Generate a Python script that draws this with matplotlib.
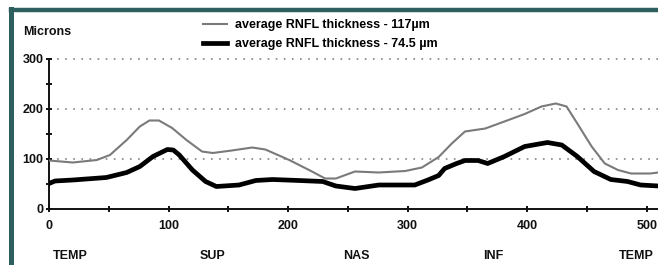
import matplotlib
matplotlib.use('Agg')
import matplotlib.pyplot as plt
from matplotlib.lines import Line2D

# RNFL thickness profile
pos_a = [0, 10, 20, 40, 51, 65, 76, 84, 92, 103, 115, 128, 137, 153, 170, 181,
         201, 220, 231, 240, 256, 276, 298, 312, 326, 337, 348, 365, 381, 398,
         412, 424, 433, 442, 454, 465, 476, 487, 503, 510]
thick_a = [96, 94, 92, 97, 107, 137, 164, 176, 176, 161, 137, 114, 111, 116, 122, 118,
           97, 74, 60, 60, 74, 72, 75, 82, 103, 130, 154, 160, 174, 189,
           204, 210, 204, 170, 124, 90, 77, 70, 70, 72]

pos_b = [0, 5, 20, 48, 65, 76, 87, 99, 104, 109, 120, 131, 140, 159, 173, 187,
         209, 229, 240, 256, 276, 306, 317, 326, 331, 341, 348, 359, 367, 381,
         398, 417, 429, 442, 456, 470, 484, 495, 510]
thick_b = [50, 55, 57, 62, 72, 84, 104, 118, 117, 107, 77, 54, 44, 47, 56, 58,
           56, 54, 45, 40, 47, 47, 57, 66, 80, 90, 96, 96, 90, 104,
           124, 132, 127, 104, 74, 58, 54, 47, 45]

label_a = 'average RNFL thickness - 117\u00b5m'
label_b = 'average RNFL thickness - 74.5 \u00b5m'

sectors = ['TEMP', 'SUP', 'NAS', 'INF', 'TEMP']
sector_pos = [3, 137, 257, 372, 506]

plt.rcParams['font.family'] = ['Liberation Sans', 'DejaVu Sans']
plt.rcParams['font.weight'] = 'bold'

fig = plt.figure(figsize=(6.58, 2.65), dpi=100)
ax = fig.add_axes([49 / 658, 1 - 208.5 / 265, 1 - 49 / 658, 150 / 265])

for yg in [100, 200, 300]:
    ax.axhline(yg, color='#7a7a7a', lw=1.1, ls=(0, (1.1, 4.2)), zorder=1, clip_on=False)

ax.plot(pos_a, thick_a, color='#7a7a7a', lw=1.5, label=label_a, zorder=3)
ax.plot(pos_b, thick_b, color='#000000', lw=3.4, label=label_b, zorder=4)

ax.set_xlim(0, 509.5)
ax.set_ylim(0, 300)
ax.set_xticks(range(0, 501, 100))
ax.set_xticks(range(50, 501, 100), minor=True)
ax.set_yticks(range(0, 301, 100))
ax.set_yticks(range(50, 300, 100), minor=True)
ax.tick_params(which='both', direction='inout', length=5, width=1.4, color='#111111',
               labelsize=9, labelcolor='#111111')
ax.tick_params(axis='x', pad=6)
ax.tick_params(axis='y', pad=1.5)

for side in ['top', 'right']:
    ax.spines[side].set_visible(False)
for side in ['left', 'bottom']:
    ax.spines[side].set_linewidth(1.4)
    ax.spines[side].set_color('#111111')

for name, p in zip(sectors, sector_pos):
    ha = 'left' if p < 50 else ('right' if p > 450 else 'center')
    ax.text(p, -0.317, name, transform=ax.get_xaxis_transform(), ha=ha, va='center',
            fontsize=9, color='#111111')

fig.text(23 / 658, 1 - 32 / 265, 'Microns', ha='left', va='center', fontsize=9,
         color='#111111')

ax.legend(loc='upper left', bbox_to_anchor=(203 / 658, 1 - 19 / 265),
          bbox_transform=fig.transFigure, frameon=False, borderpad=0,
          borderaxespad=0, handlelength=1.9, handletextpad=0.65,
          labelspacing=0.6, prop={'size': 9, 'weight': 'bold'})

# teal frame, only the top and left edges are inside the picture
frame = '#2e5f5f'
fig.add_artist(Line2D([10.5 / 658, 1], [1 - 10 / 265, 1 - 10 / 265],
                      transform=fig.transFigure, color=frame, lw=3.2))
fig.add_artist(Line2D([10.5 / 658, 10.5 / 658], [0, 1 - 8.5 / 265],
                      transform=fig.transFigure, color=frame, lw=3.6))

fig.savefig('out.png', dpi=100)
